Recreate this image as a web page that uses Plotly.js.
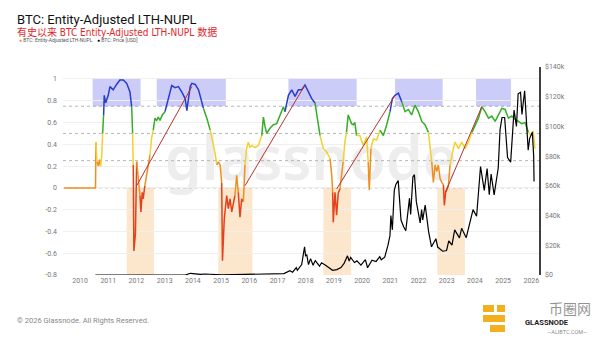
<!DOCTYPE html>
<html>
<head>
<meta charset="utf-8">
<script src="https://cdn.plot.ly/plotly-3.0.1.min.js"></script>
<style>html,body{margin:0;padding:0;background:#fff;}#chart{width:600px;height:338px;}</style>
</head>
<body>
<div id="chart"></div>
<script>
// ---- NUPL series (Entity-Adjusted LTH-NUPL) ----
const nuplDates = [
'2009-06-10','2010-07-20','2010-07-26','2010-08-08','2010-08-25','2010-09-09','2010-09-24','2010-10-09','2010-10-20','2010-11-02',
'2010-11-10','2010-11-28','2011-01-01','2011-01-23','2011-03-06','2011-04-19','2011-06-01','2011-07-15','2011-08-28','2011-10-09',
'2011-10-31','2011-11-13','2011-11-21','2011-11-29','2011-12-19','2012-01-04','2012-01-25','2012-02-16','2012-02-28','2012-03-16',
'2012-03-29','2012-04-19','2012-05-12','2012-06-02','2012-06-24','2012-07-16','2012-08-06','2012-08-28','2012-09-19','2012-10-10',
'2012-11-01','2012-12-01','2013-01-05','2013-02-17','2013-04-02','2013-05-15','2013-06-28','2013-08-11','2013-09-23','2013-10-15',
'2013-11-05','2013-11-27','2013-12-19','2014-01-31','2014-03-15','2014-04-28','2014-05-18','2014-07-01','2014-08-13','2014-09-25',
'2014-10-16','2014-11-07','2014-11-28','2014-12-19','2015-01-09','2015-01-19','2015-02-12','2015-03-15','2015-04-05','2015-04-27',
'2015-05-19','2015-06-09','2015-06-30','2015-07-22','2015-08-12','2015-09-03','2015-09-25','2015-10-16','2015-11-07','2015-11-28',
'2015-12-19','2016-01-10','2016-02-01','2016-03-16','2016-04-28','2016-06-11','2016-07-02','2016-07-24','2016-08-14','2016-09-27',
'2016-11-09','2016-12-22','2017-02-03','2017-03-18','2017-04-08','2017-05-22','2017-07-04','2017-08-16','2017-09-28','2017-11-10',
'2017-12-23','2018-02-05','2018-03-20','2018-05-01','2018-06-14','2018-07-06','2018-08-18','2018-09-30','2018-11-12','2018-12-04',
'2018-12-16','2018-12-24','2019-01-15','2019-02-05','2019-02-26','2019-03-20','2019-04-10','2019-05-01','2019-05-23','2019-06-13',
'2019-07-05','2019-07-27','2019-08-17','2019-09-08','2019-09-30','2019-10-21','2019-12-03','2020-01-16','2020-02-29','2020-03-20',
'2020-04-03','2020-04-25','2020-05-25','2020-07-08','2020-08-20','2020-10-02','2020-11-15','2020-12-28','2021-01-27','2021-03-03',
'2021-04-15','2021-05-29','2021-07-10','2021-08-22','2021-10-04','2021-11-16','2021-12-30','2022-02-12','2022-03-26','2022-05-09',
'2022-05-31','2022-06-21','2022-07-12','2022-08-03','2022-08-25','2022-09-15','2022-10-07','2022-10-29','2022-11-19','2022-12-01',
'2022-12-19','2023-01-22','2023-02-13','2023-03-07','2023-03-28','2023-04-19','2023-05-11','2023-06-01','2023-07-15','2023-08-27',
'2023-10-09','2023-11-22','2024-01-04','2024-02-16','2024-03-30','2024-05-12','2024-06-25','2024-08-07','2024-09-19','2024-11-01',
'2024-12-14','2025-01-26','2025-03-10','2025-04-22','2025-06-04','2025-07-17','2025-08-29','2025-10-11','2025-11-23','2026-01-05',
'2026-01-26','2026-02-17'];
const nuplValues = [
0,0,0.42,0.24,0.2,0.26,0.2,0.3,0.5,0.67,
0.85,0.78,0.85,0.93,0.9,0.95,0.99,0.99,0.96,0.88,
0.745,0.5,0.21,-0.58,-0.42,0.24,0.115,-0.07,-0.22,-0.04,
-0.1,0.02,0.115,0.18,0.3,0.46,0.53,0.64,0.62,0.65,
0.62,0.67,0.7,0.82,0.94,0.92,0.93,0.88,0.82,0.71,
0.82,0.93,0.96,0.95,0.9,0.79,0.73,0.64,0.53,0.39,
0.315,0.21,0.24,0.21,0.05,-0.67,-0.28,-0.07,-0.19,-0.1,
-0.22,-0.14,-0.07,0.115,-0.04,-0.27,-0.1,-0.13,0.21,0.36,
0.42,0.37,0.39,0.37,0.39,0.48,0.65,0.56,0.5,0.55,
0.58,0.59,0.67,0.745,0.7,0.85,0.9,0.84,0.9,0.9,
0.945,0.88,0.82,0.78,0.58,0.48,0.36,0.33,0.27,0.115,
-0.04,-0.315,-0.04,-0.25,-0.05,-0.01,0.115,0.24,0.42,0.51,
0.67,0.63,0.59,0.58,0.6,0.48,0.48,0.39,0.47,0.24,
-0.02,0.36,0.45,0.44,0.53,0.48,0.58,0.7,0.82,0.85,
0.87,0.79,0.7,0.72,0.67,0.76,0.7,0.61,0.58,0.51,
0.39,0.24,0.05,0.21,0.15,0.21,0.085,0.05,0.03,-0.16,
-0.04,0.02,0.21,0.3,0.36,0.42,0.38,0.36,0.42,0.36,
0.42,0.51,0.58,0.64,0.745,0.7,0.64,0.66,0.61,0.67,
0.73,0.72,0.64,0.66,0.63,0.61,0.59,0.6,0.51,0.48,
0.52,0.36];

// ---- BTC price (USD) ----
const priceDates = [
'2010-07-18','2011-02-10','2011-06-08','2011-11-18','2012-05-01','2012-08-16','2013-01-01','2013-04-09','2013-07-05','2013-10-01',
'2013-11-30','2014-01-05','2014-04-10','2014-06-03','2014-10-05','2015-01-14','2015-06-01','2015-11-04','2016-01-15','2016-06-17',
'2016-10-01','2017-01-04','2017-03-25','2017-06-10','2017-07-15','2017-09-01','2017-09-15','2017-11-10','2017-12-17','2017-12-30',
'2018-01-15','2018-02-06','2018-03-05','2018-04-06','2018-05-05','2018-06-29','2018-07-25','2018-09-15','2018-11-25','2018-12-15',
'2019-02-08','2019-04-03','2019-05-15','2019-06-26','2019-07-17','2019-08-06','2019-09-25','2019-10-26','2019-12-17','2020-02-13',
'2020-03-12','2020-05-08','2020-06-30','2020-08-17','2020-09-05','2020-10-20','2020-11-30','2020-12-27','2021-01-08','2021-01-27',
'2021-02-21','2021-03-13','2021-04-13','2021-05-19','2021-06-22','2021-07-20','2021-09-06','2021-09-21','2021-10-20','2021-11-09',
'2021-12-04','2022-01-22','2022-02-10','2022-02-24','2022-03-28','2022-05-12','2022-06-18','2022-08-14','2022-09-06','2022-11-09',
'2022-12-30','2023-01-28','2023-03-10','2023-04-14','2023-06-15','2023-07-13','2023-09-11','2023-10-24','2023-12-08','2024-01-23',
'2024-03-14','2024-05-01','2024-06-07','2024-07-05','2024-07-29','2024-09-06','2024-10-29','2024-11-22','2024-12-17','2025-01-20',
'2025-02-27','2025-04-08','2025-05-22','2025-06-22','2025-07-14','2025-08-14','2025-09-01','2025-10-06','2025-11-04','2025-11-21',
'2025-12-10','2026-01-14','2026-01-31','2026-02-05'];
const priceValues = [
0.08,1,30,2.3,5,13,13,230,70,130,
1150,950,380,660,320,170,230,400,380,750,
610,1100,900,2900,1900,4900,3200,7000,19000,13000,
13500,7000,11000,6600,9700,5900,8200,6500,3900,3200,
3600,5000,8000,12900,9400,11800,8400,9500,6600,10300,
4900,9900,9100,12300,10200,12000,19700,26500,40000,30400,
57000,61000,63500,37000,32500,29800,51700,40700,66000,67500,
49200,35000,44000,37000,47100,29000,19000,24400,18800,16000,
16500,23000,20100,30400,25000,31400,25100,34000,44000,39500,
73000,57000,71600,54000,68000,53900,72000,98000,106000,106000,
79000,76000,111000,100000,122000,123000,108000,124000,101000,84000,
92000,96000,80000,63000];

// ---- Annotated trend lines (bottom -> top) ----
const trendStartDates = ['2012-01-04','2015-11-07','2019-02-05','2022-12-15'];
const trendStartValues = [0.02,0.02,-0.01,-0.04];
const trendEndDates = ['2013-12-19','2017-12-23','2021-03-03','2024-03-30'];
const trendEndValues = [0.93,0.945,0.85,0.745];

// ---- Highlighted zones ----
const euphoriaStart = ['2010-06-13','2012-09-20','2017-05-22','2021-03-03','2024-01-15'];
const euphoriaEnd   = ['2012-02-24','2015-03-04','2019-10-23','2022-11-10','2025-04-12'];
const capitStart = ['2011-08-28','2014-11-25','2018-08-18','2022-09-02'];
const capitEnd   = ['2012-08-14','2016-02-10','2019-08-11','2023-08-25'];

// ---- Regime thresholds & axis ticks ----
const thresholds = [0.75,0.5,0.25,0];
const leftTicks = [-0.8,-0.6,-0.4,-0.2,0,0.2,0.4,0.6,0.8,1];
const leftTickText = ['-0.8','-0.6','-0.4','-0.2','0','0.2','0.4','0.6','0.8','1'];
const rightTicks = [0,20000,40000,60000,80000,100000,120000,140000];
const rightTickText = ['$0','$20k','$40k','$60k','$80k','$100k','$120k','$140k'];

const COL = {blue:'#2a3ccc', green:'#35ad27', yellow:'#f1d12f', orange:'#f08e1e', red:'#e2421c'};
function regime(v){
  if (v >= 0.75) return COL.blue;
  if (v >= 0.5) return COL.green;
  if (v >= 0.25) return COL.yellow;
  if (v >= 0) return COL.orange;
  return COL.red;
}

const traces = [];
// price first (drawn under NUPL)
traces.push({x:priceDates, y:priceValues, yaxis:'y2', type:'scatter', mode:'lines',
  line:{color:'#000', width:1.2}, hoverinfo:'skip', showlegend:false});

// NUPL colored segments
let segStart = 0;
let segColor = regime((nuplValues[0]+nuplValues[1])/2);
for (let i = 1; i < nuplValues.length; i++) {
  const c = i < nuplValues.length-1 ? regime((nuplValues[i]+nuplValues[i+1])/2) : null;
  if (c !== segColor) {
    traces.push({x:nuplDates.slice(segStart, i+1), y:nuplValues.slice(segStart, i+1),
      type:'scatter', mode:'lines', line:{color:segColor, width:1.5}, hoverinfo:'skip', showlegend:false});
    segStart = i; segColor = c;
  }
}

// trend lines
for (let k = 0; k < trendStartDates.length; k++) {
  traces.push({x:[trendStartDates[k], trendEndDates[k]], y:[trendStartValues[k], trendEndValues[k]],
    type:'scatter', mode:'lines', line:{color:'#b8302c', width:1}, hoverinfo:'skip', showlegend:false});
}

const shapes = [];
euphoriaStart.forEach((s,i)=>shapes.push({type:'rect', xref:'x', yref:'y', x0:s, x1:euphoriaEnd[i], y0:0.75, y1:1,
  fillcolor:'rgba(120,120,240,0.38)', line:{width:0}, layer:'below'}));
capitStart.forEach((s,i)=>shapes.push({type:'rect', xref:'x', yref:'y', x0:s, x1:capitEnd[i], y0:-0.8, y1:0,
  fillcolor:'rgba(247,190,120,0.38)', line:{width:0}, layer:'below'}));
thresholds.forEach(t=>shapes.push({type:'line', xref:'paper', yref:'y', x0:0, x1:1, y0:t, y1:t,
  line:{color:'#b5b5b5', width:1, dash:'dot'}, layer:'below'}));
// right axis line
shapes.push({type:'line', xref:'paper', yref:'paper', x0:1, x1:1, y0:0, y1:1, line:{color:'#000', width:1.5}});

const wm = 'data:image/svg+xml;utf8,' + encodeURIComponent(
 '<svg xmlns="http://www.w3.org/2000/svg" width="300" height="80"><text x="150" y="55" text-anchor="middle" font-family="Noto Sans, Arial" font-size="62" font-weight="600" fill="#ededed">glassnode</text></svg>');

const layout = {
  width:600, height:338,
  margin:{l:63, r:60, t:67, b:63},
  paper_bgcolor:'#fff', plot_bgcolor:'#fff',
  font:{family:'Roboto, Arial, sans-serif', color:'#777', size:7},
  xaxis:{type:'date', range:['2009-05-25','2026-04-23'], tick0:'2010-01-01', dtick:'M12', tickformat:'%Y',
    showgrid:false, zeroline:false, showline:false, ticks:'', tickfont:{size:7, color:'#777'}},
  yaxis:{range:[-0.8,1.11], tickvals:leftTicks, ticktext:leftTickText, showgrid:true, gridcolor:'#efefef',
    gridwidth:1, zeroline:false, showline:false, ticks:'', tickfont:{size:7, color:'#777'}, ticklabelstandoff:5},
  yaxis2:{overlaying:'y', side:'right', range:[0,140000], tickvals:rightTicks, ticktext:rightTickText,
    showgrid:false, zeroline:false, showline:false, ticks:'', tickfont:{size:7, color:'#777'}, ticklabelstandoff:4},
  shapes:shapes,
  images:[{source:wm, xref:'paper', yref:'paper', x:0.22, y:0.72, sizex:0.6, sizey:0.38, sizing:'stretch', layer:'below', xanchor:'left', yanchor:'top'}],
  annotations:[
    {text:'BTC: Entity-Adjusted LTH-NUPL', xref:'paper', yref:'paper', x:-63/477, y:1+(67-20)/208, xanchor:'left', yanchor:'middle',
      showarrow:false, font:{family:'Roboto, Arial', size:13, color:'#111'}, xshift:15},
    {text:'有史以来 BTC Entity-Adjusted LTH-NUPL 数据', xref:'paper', yref:'paper', x:-63/477, y:1+(67-32)/208, xanchor:'left', yanchor:'middle',
      showarrow:false, font:{family:'Liberation Sans Narrow, DejaVu Sans Condensed, Noto Sans CJK SC', size:10, color:'#e0262b'}, xshift:15},
    {text:'<span style="color:#f7931a">●</span> BTC: Entity-Adjusted LTH-NUPL', xref:'paper', yref:'paper', x:-63/477, y:1+(67-40)/208,
      xanchor:'left', yanchor:'middle', showarrow:false, font:{family:'Roboto, Arial', size:5, color:'#555'}, xshift:17},
    {text:'<span style="color:#000">●</span> BTC: Price [USD]', xref:'paper', yref:'paper', x:-63/477, y:1+(67-40)/208,
      xanchor:'left', yanchor:'middle', showarrow:false, font:{family:'Roboto, Arial', size:5, color:'#555'}, xshift:95},
    {text:'© 2026 Glassnode. All Rights Reserved.', xref:'paper', yref:'paper', x:-63/477, y:-(320-275)/208, xanchor:'left', yanchor:'middle',
      showarrow:false, font:{family:'Roboto, Arial', size:7.5, color:'#888'}, xshift:15},
    {text:'币圈网', xref:'paper', yref:'paper', x:(570-63)/477, y:-(308-275)/208, xanchor:'center', yanchor:'middle',
      showarrow:false, font:{family:'Noto Sans CJK SC', size:14, color:'rgba(110,110,110,0.75)'}},
    {text:'<b>GLASSNODE</b>', xref:'paper', yref:'paper', x:(547-63)/477, y:-(322-275)/208, xanchor:'center', yanchor:'middle',
      showarrow:false, font:{family:'Roboto, Arial', size:7.5, color:'#222'}},
    {text:'—ALIBTC.COM—', xref:'paper', yref:'paper', x:(567-63)/477, y:-(332-275)/208, xanchor:'center', yanchor:'middle',
      showarrow:false, font:{family:'Roboto, Arial', size:5.5, color:'rgba(110,110,110,0.85)'}}
  ]
};
// small yellow logo blocks (decoration)
[[483,305,494,312],[497,305,505,312],[483,315,505,322],[490,325,505,332]].forEach(r=>{
  layout.shapes.push({type:'rect', xref:'paper', yref:'paper', x0:(r[0]-63)/477, x1:(r[2]-63)/477,
    y0:-(r[3]-275)/208, y1:-(r[1]-275)/208, fillcolor:'#f2b01e', line:{width:0}});
});

Plotly.newPlot('chart', traces, layout, {staticPlot:true, displayModeBar:false});
</script>
</body>
</html>
